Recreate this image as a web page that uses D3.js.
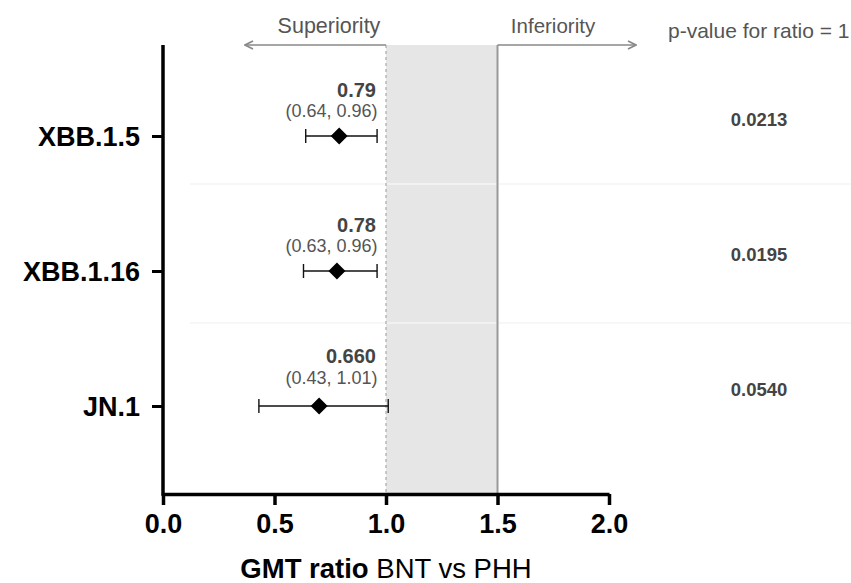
<!DOCTYPE html>
<html><head><meta charset="utf-8">
<script src="https://cdn.jsdelivr.net/npm/d3@7"></script>
<style>body{margin:0;background:#fff}svg{display:block}text{font-family:"Liberation Sans",Arial,sans-serif}</style>
</head><body>
<svg id="c" width="851" height="583"></svg>
<script>
const categories = ["XBB.1.5", "XBB.1.16", "JN.1"];
const estimates = [0.79, 0.78, 0.70];
const lower = [0.64, 0.63, 0.43];
const upper = [0.96, 0.96, 1.01];
const estimateLabels = ["0.79", "0.78", "0.660"];
const pValues = ["0.0213", "0.0195", "0.0540"];
const xTicks = [0.0, 0.5, 1.0, 1.5, 2.0];
const margin = 1.0, nonInferiority = 1.5;

const svg = d3.select("#c");
const x = d3.scaleLinear().domain([0, 2]).range([163, 609]);
const y = d3.scalePoint().domain(categories).range([136, 406]);
const yTop = 45, yBottom = 494;

// shaded band
svg.append("rect").attr("x", x(margin)).attr("y", yTop)
  .attr("width", x(nonInferiority) - x(margin)).attr("height", yBottom - yTop)
  .attr("fill", "#e6e6e6");

// faint separators
[y(categories[0]) + 48, y(categories[1]) + 52].forEach(v => {
  svg.append("line").attr("x1", 190).attr("x2", 851).attr("y1", v).attr("y2", v)
    .attr("stroke", "#f4f4f4").attr("stroke-width", 1.5);
});

// reference lines
svg.append("line").attr("x1", x(margin)).attr("x2", x(margin)).attr("y1", yTop).attr("y2", yBottom)
  .attr("stroke", "#aaa").attr("stroke-width", 1.2).attr("stroke-dasharray", "3,3");
svg.append("line").attr("x1", x(nonInferiority)).attr("x2", x(nonInferiority)).attr("y1", yTop).attr("y2", yBottom)
  .attr("stroke", "#999").attr("stroke-width", 2);

// arrows
const defs = svg.append("defs");
defs.append("marker").attr("id", "ah").attr("viewBox", "0 0 10 10").attr("refX", 9).attr("refY", 5)
  .attr("markerWidth", 10).attr("markerHeight", 10).attr("markerUnits", "userSpaceOnUse").attr("orient", "auto-start-reverse")
  .append("path").attr("d", "M1,1 L9,5 L1,9").attr("fill", "none").attr("stroke", "#888").attr("stroke-width", 1.6);
svg.append("line").attr("x1", x(margin)).attr("x2", 245).attr("y1", yTop).attr("y2", yTop)
  .attr("stroke", "#888").attr("stroke-width", 1.5).attr("marker-end", "url(#ah)");
svg.append("line").attr("x1", x(nonInferiority)).attr("x2", 636).attr("y1", yTop).attr("y2", yTop)
  .attr("stroke", "#888").attr("stroke-width", 1.5).attr("marker-end", "url(#ah)");
svg.append("text").attr("x", 329).attr("y", 33).attr("text-anchor", "middle")
  .attr("font-size", 21.5).attr("fill", "#555").text("Superiority");
svg.append("text").attr("x", 553).attr("y", 33).attr("text-anchor", "middle")
  .attr("font-size", 20.5).attr("fill", "#555").text("Inferiority");
svg.append("text").attr("x", 668).attr("y", 38)
  .attr("font-size", 21).attr("fill", "#555").text("p-value for ratio = 1");

// axes
const xAxis = d3.axisBottom(x).tickValues(xTicks).tickFormat(d3.format(".1f")).tickSize(11).tickSizeOuter(0);
const gx = svg.append("g").attr("transform", `translate(0,${yBottom})`).call(xAxis);
gx.select(".domain").attr("stroke", "#000").attr("stroke-width", 3.5);
gx.selectAll(".tick line").attr("stroke", "#000").attr("stroke-width", 3.5);
gx.selectAll(".tick text").attr("font-size", 27).attr("font-weight", "bold").attr("fill", "#000")
  .attr("y", 39).attr("dy", 0).style("font-family", '"Liberation Sans",Arial,sans-serif');

const yAxis = d3.axisLeft(y).tickSize(11).tickSizeOuter(0).tickFormat(d => d).tickPadding(12);
const gy = svg.append("g").attr("transform", `translate(${x(0)},0)`).call(yAxis);
gy.select(".domain").remove();
gy.selectAll(".tick line").attr("stroke", "#000").attr("stroke-width", 3);
gy.selectAll(".tick text").attr("font-size", 27).attr("font-weight", "bold").attr("fill", "#000")
  .attr("dy", "0.36em").style("font-family", '"Liberation Sans",Arial,sans-serif');
svg.append("line").attr("x1", x(0)).attr("x2", x(0)).attr("y1", yTop).attr("y2", yBottom + 1.75)
  .attr("stroke", "#000").attr("stroke-width", 3.5);

// CIs
const rows = categories.map((c, i) => ({c, est: estimates[i], lo: lower[i], hi: upper[i], lab: estimateLabels[i], p: pValues[i]}));
const g = svg.selectAll(".row").data(rows).join("g").attr("class", "row");
g.append("line").attr("x1", d => x(d.lo)).attr("x2", d => x(d.hi)).attr("y1", d => y(d.c)).attr("y2", d => y(d.c))
  .attr("stroke", "#111").attr("stroke-width", 1.4);
g.append("line").attr("x1", d => x(d.lo)).attr("x2", d => x(d.lo)).attr("y1", d => y(d.c) - 7).attr("y2", d => y(d.c) + 7)
  .attr("stroke", "#111").attr("stroke-width", 1.4);
g.append("line").attr("x1", d => x(d.hi)).attr("x2", d => x(d.hi)).attr("y1", d => y(d.c) - 7).attr("y2", d => y(d.c) + 7)
  .attr("stroke", "#111").attr("stroke-width", 1.4);
g.append("path").attr("transform", d => `translate(${x(d.est)},${y(d.c)})`)
  .attr("d", "M0,-8.5 L8.5,0 L0,8.5 L-8.5,0 Z").attr("fill", "#000");
g.append("text").attr("x", x(0.955)).attr("y", (d, i) => y(d.c) - (i === 2 ? 43 : 39)).attr("text-anchor", "end")
  .attr("font-size", 20).attr("font-weight", "bold").attr("fill", "#444").text(d => d.lab);
g.append("text").attr("x", x(0.962)).attr("y", (d, i) => y(d.c) - (i === 2 ? 22 : 19)).attr("text-anchor", "end")
  .attr("font-size", 18).attr("fill", "#555").text(d => `(${d.lo.toFixed(2)}, ${d.hi.toFixed(2)})`);
g.append("text").attr("x", 759).attr("y", d => y(d.c) - 10).attr("text-anchor", "middle")
  .attr("font-size", 18.5).attr("font-weight", "bold").attr("fill", "#444").text(d => d.p);

// x title
const t = svg.append("text").attr("x", x(1)).attr("y", 578).attr("text-anchor", "middle")
  .attr("font-size", 27.5).attr("fill", "#000");
t.append("tspan").attr("font-weight", "bold").text("GMT ratio");
t.append("tspan").text(" BNT vs PHH");
</script>
</body></html>
